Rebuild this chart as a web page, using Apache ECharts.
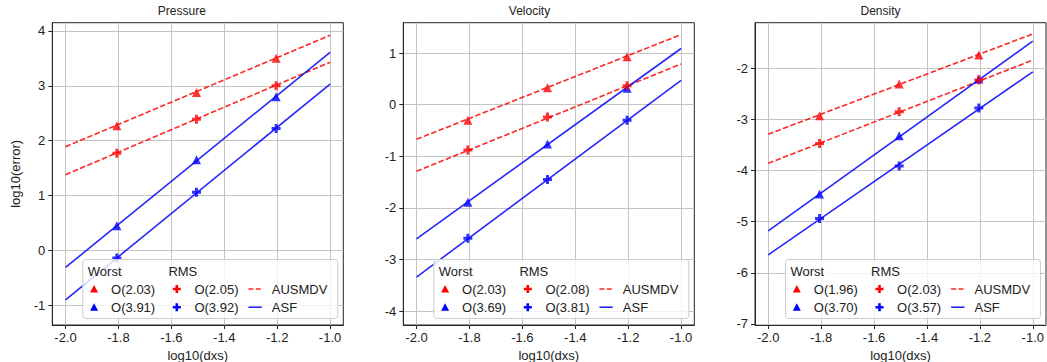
<!DOCTYPE html>
<html>
<head>
<meta charset="utf-8">
<title>Convergence of AUSMDV and ASF</title>
<script src="https://cdn.jsdelivr.net/npm/echarts@6/dist/echarts.min.js"></script>
<style>
  html, body { margin: 0; padding: 0; background: #ffffff; }
  #chart { width: 1047px; height: 362px; }
</style>
</head>
<body>
<div id="chart"></div>
<script>
// Grid spacings (log10 of dx = 1/64, 1/32, 1/16) and fit-line end points
const dxs = [-1.806, -1.505, -1.204];
const fitX = [-2.0, -1.0];
const xTicks = [-2.0, -1.8, -1.6, -1.4, -1.2, -1.0];
const panelTitles = ['Pressure', 'Velocity', 'Density'];

// Pressure: log10 errors
const pressureWorstAusmdv = [2.27, 2.88, 3.50];
const pressureRmsAusmdv   = [1.77, 2.39, 3.00];
const pressureWorstAsf    = [0.45, 1.65, 2.80];
const pressureRmsAsf      = [-0.14, 1.06, 2.22];
const pressureFitWorstAusmdv = [1.89, 3.92];
const pressureFitRmsAusmdv   = [1.38, 3.43];
const pressureFitWorstAsf    = [-0.31, 3.61];
const pressureFitRmsAsf      = [-0.90, 3.03];
const pressureOrders = ['2.03', '2.05', '3.91', '3.92']; // worst AUSMDV, RMS AUSMDV, worst ASF, RMS ASF
const pressureYTicks = [-1, 0, 1, 2, 3, 4];

// Velocity: log10 errors
const velocityWorstAusmdv = [-0.30, 0.33, 0.93];
const velocityRmsAusmdv   = [-0.88, -0.24, 0.37];
const velocityWorstAsf    = [-1.89, -0.76, 0.32];
const velocityRmsAsf      = [-2.59, -1.45, -0.30];
const velocityFitWorstAusmdv = [-0.67, 1.36];
const velocityFitRmsAusmdv   = [-1.29, 0.79];
const velocityFitWorstAsf    = [-2.60, 1.09];
const velocityFitRmsAsf      = [-3.34, 0.47];
const velocityOrders = ['2.03', '2.08', '3.69', '3.81'];
const velocityYTicks = [-4, -3, -2, -1, 0, 1];

// Density: log10 errors
const densityWorstAusmdv = [-2.93, -2.31, -1.74];
const densityRmsAusmdv   = [-3.47, -2.85, -2.23];
const densityWorstAsf    = [-4.46, -3.32, -2.21];
const densityRmsAsf      = [-4.94, -3.91, -2.78];
const densityFitWorstAusmdv = [-3.29, -1.33];
const densityFitRmsAusmdv   = [-3.86, -1.84];
const densityFitWorstAsf    = [-5.18, -1.47];
const densityFitRmsAsf      = [-5.65, -2.07];
const densityOrders = ['1.96', '2.03', '3.70', '3.57'];
const densityYTicks = [-7, -6, -5, -4, -3, -2];

const panels = [
  { worstA: pressureWorstAusmdv, rmsA: pressureRmsAusmdv, worstS: pressureWorstAsf, rmsS: pressureRmsAsf,
    fitWA: pressureFitWorstAusmdv, fitRA: pressureFitRmsAusmdv, fitWS: pressureFitWorstAsf, fitRS: pressureFitRmsAsf,
    orders: pressureOrders, yTicks: pressureYTicks, yMin: -1.36, yMax: 4.15 },
  { worstA: velocityWorstAusmdv, rmsA: velocityRmsAusmdv, worstS: velocityWorstAsf, rmsS: velocityRmsAsf,
    fitWA: velocityFitWorstAusmdv, fitRA: velocityFitRmsAusmdv, fitWS: velocityFitWorstAsf, fitRS: velocityFitRmsAsf,
    orders: velocityOrders, yTicks: velocityYTicks, yMin: -4.27, yMax: 1.59 },
  { worstA: densityWorstAusmdv, rmsA: densityRmsAusmdv, worstS: densityWorstAsf, rmsS: densityRmsAsf,
    fitWA: densityFitWorstAusmdv, fitRA: densityFitRmsAusmdv, fitWS: densityFitWorstAsf, fitRS: densityFitRmsAsf,
    orders: densityOrders, yTicks: densityYTicks, yMin: -7.02, yMax: -1.11 }
];

// Layout
const FONT = '"Liberation Sans", Arial, sans-serif';
const TEXT = '#222222';
const RED = '#ff0000';
const BLUE = '#0000ff';
const plotLefts = [52.3, 403.3, 755.0];
const plotTop = 22.7;
const plotW = 291;
const plotH = 302.3;
const PLUS = 'path://M2,0H4V2H6V4H4V6H2V4H0V2H2Z';
const LEGEND_Z = 100;

const grids = [], xAxes = [], yAxes = [], series = [], graphics = [];

function pairs(xs, ys) { return xs.map((x, i) => [x, ys[i]]); }

panels.forEach((p, k) => {
  grids.push({
    left: plotLefts[k], top: plotTop, width: plotW, height: plotH,
    show: true, borderColor: '#262626', borderWidth: 1, backgroundColor: 'transparent',
    containLabel: false, outerBoundsMode: 'none'
  });
  xAxes.push({
    type: 'value', gridIndex: k, min: -2.05, max: -0.95,
    name: 'log10(dxs)', nameLocation: 'middle', nameGap: 21,
    nameTextStyle: { fontFamily: FONT, fontSize: 13, color: TEXT },
    axisLine: { show: true, onZero: false, lineStyle: { color: '#262626', width: 1 } },
    axisTick: { show: true, inside: false, length: 4, customValues: xTicks, lineStyle: { color: '#262626' } },
    axisLabel: { customValues: xTicks, margin: 6, fontFamily: FONT, fontSize: 13, color: TEXT,
                 formatter: v => v.toFixed(1) },
    splitLine: { show: true, lineStyle: { color: '#c4c4c4', width: 1 } }
  });
  yAxes.push({
    type: 'value', gridIndex: k, min: p.yMin, max: p.yMax,
    name: k === 0 ? 'log10(error)' : '', nameLocation: 'middle', nameGap: 30,
    nameTextStyle: { fontFamily: FONT, fontSize: 13, color: TEXT },
    axisLine: { show: true, onZero: false, lineStyle: { color: '#262626', width: 1 } },
    axisTick: { show: true, inside: false, length: 4, customValues: p.yTicks, lineStyle: { color: '#262626' } },
    axisLabel: { customValues: p.yTicks, margin: 7, fontFamily: FONT, fontSize: 13, color: TEXT,
                 formatter: v => String(Math.round(v)) },
    splitLine: { show: true, lineStyle: { color: '#c4c4c4', width: 1 } }
  });

  // fitted convergence lines
  const lineDefs = [
    [p.fitWA, RED, [5.5, 2.4]], [p.fitRA, RED, [5.5, 2.4]],
    [p.fitWS, BLUE, 'solid'], [p.fitRS, BLUE, 'solid']
  ];
  lineDefs.forEach(([ys, color, dash]) => {
    series.push({
      type: 'line', xAxisIndex: k, yAxisIndex: k, data: pairs(fitX, ys),
      showSymbol: false, symbol: 'none', silent: true, z: 2,
      lineStyle: { color: color, width: 1.6, type: dash, opacity: 0.85 }
    });
  });

  // measured errors
  const markDefs = [
    [p.worstS, BLUE, 'triangle', 9], [p.rmsS, BLUE, PLUS, 9],
    [p.worstA, RED, 'triangle', 9], [p.rmsA, RED, PLUS, 9]
  ];
  markDefs.forEach(([ys, color, sym, size]) => {
    series.push({
      type: 'scatter', xAxisIndex: k, yAxisIndex: k, data: pairs(dxs, ys),
      symbol: sym, symbolSize: size, silent: true, z: 3,
      itemStyle: { color: color }
    });
  });

  // panel title
  graphics.push({
    type: 'text', left: plotLefts[k] + plotW / 2 - 40, top: 5,
    style: { text: panelTitles[k], x: 40, fontFamily: FONT, fontSize: 12, fill: TEXT, align: 'center' }
  });

  // legend box
  const bx = plotLefts[k] + 30.5, by = 259.5;
  const r1 = 11.5, r2 = 29.5, r3 = 47.7;
  const txt = (s, x, y) => ({ type: 'text', x: x, y: y, z: LEGEND_Z + 1,
    style: { text: s, fontFamily: FONT, fontSize: 13, fill: TEXT, verticalAlign: 'middle' } });
  const tri = (cx, cy, c) => ({ type: 'polygon', z: LEGEND_Z + 1,
    shape: { points: [[cx, cy - 4], [cx - 4, cy + 3.5], [cx + 4, cy + 3.5]] }, style: { fill: c } });
  const plus = (cx, cy, c) => ({ type: 'polygon', z: LEGEND_Z + 1,
    shape: { points: [[cx - 1.3, cy - 4], [cx + 1.3, cy - 4], [cx + 1.3, cy - 1.3], [cx + 4, cy - 1.3],
      [cx + 4, cy + 1.3], [cx + 1.3, cy + 1.3], [cx + 1.3, cy + 4], [cx - 1.3, cy + 4],
      [cx - 1.3, cy + 1.3], [cx - 4, cy + 1.3], [cx - 4, cy - 1.3], [cx - 1.3, cy - 1.3]] },
    style: { fill: c } });
  graphics.push({
    type: 'group', x: bx, y: by, z: LEGEND_Z,
    children: [
      { type: 'rect', z: LEGEND_Z, shape: { x: 0, y: 0, width: 255, height: 59, r: 3 },
        style: { fill: 'rgba(255,255,255,0.8)', stroke: '#cccccc', lineWidth: 1 } },
      txt('Worst', 5, r1),
      tri(11.3, r2, RED), txt('O(' + p.orders[0] + ')', 28.3, r2),
      tri(11.3, r3, BLUE), txt('O(' + p.orders[2] + ')', 28.3, r3),
      txt('RMS', 85.6, r1),
      plus(94, r2, RED), txt('O(' + p.orders[1] + ')', 111.6, r2),
      plus(94, r3, BLUE), txt('O(' + p.orders[3] + ')', 111.6, r3),
      { type: 'line', z: LEGEND_Z + 1, shape: { x1: 165.6, y1: r2, x2: 179, y2: r2 },
        style: { stroke: RED, lineWidth: 1.6, lineDash: [5, 2.4], opacity: 0.85 } },
      txt('AUSMDV', 189, r2),
      { type: 'line', z: LEGEND_Z + 1, shape: { x1: 165.6, y1: r3, x2: 179, y2: r3 },
        style: { stroke: BLUE, lineWidth: 1.6, opacity: 0.85 } },
      txt('ASF', 189, r3)
    ]
  });
});

const chart = echarts.init(document.getElementById('chart'), null, { renderer: 'svg' });
chart.setOption({
  animation: false,
  backgroundColor: '#ffffff',
  grid: grids,
  xAxis: xAxes,
  yAxis: yAxes,
  series: series,
  graphic: graphics
});
</script>
</body>
</html>
